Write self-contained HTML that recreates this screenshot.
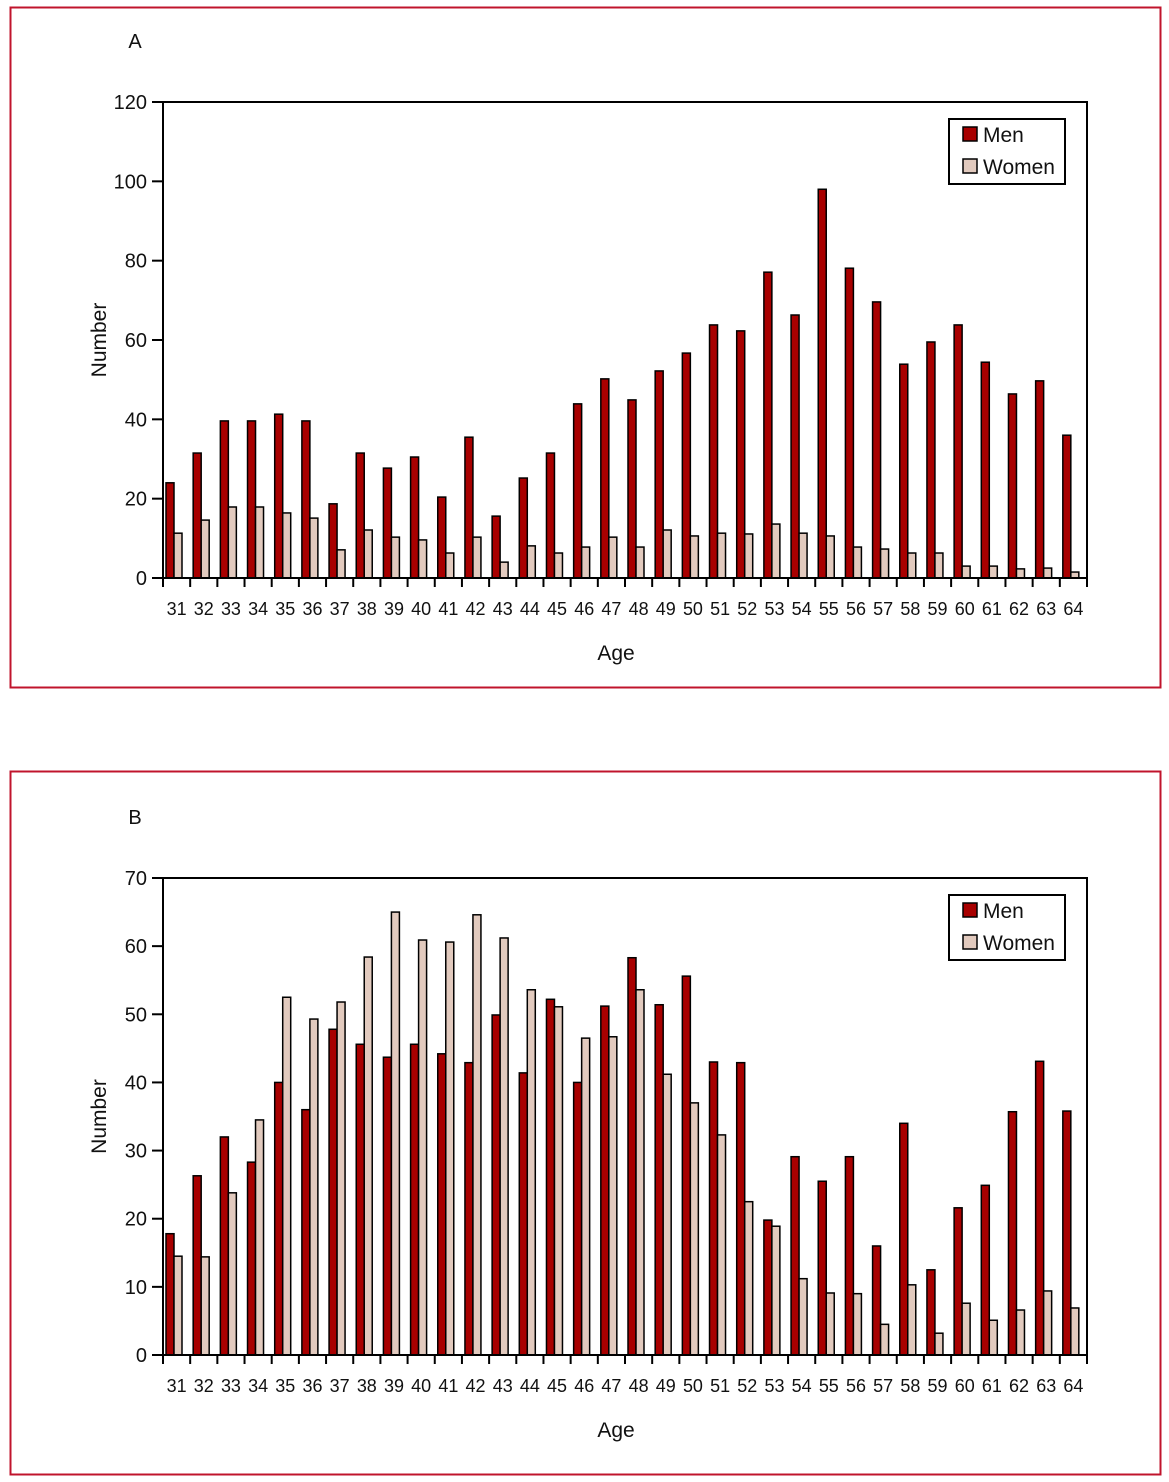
<!DOCTYPE html>
<html><head><meta charset="utf-8"><style>
html,body{margin:0;padding:0;background:#fff;}
svg{display:block;}
text{font-family:"Liberation Sans",sans-serif;fill:#111;}
</style></head><body>
<svg id="fig" width="1169" height="1482" xmlns="http://www.w3.org/2000/svg">
<rect x="10.5" y="7.5" width="1150" height="680" fill="none" stroke="#c0142c" stroke-width="2"/>
<rect x="10.5" y="771.5" width="1150" height="703" fill="none" stroke="#c0142c" stroke-width="2"/>
</svg>
<script>
const ages=[31,32,33,34,35,36,37,38,39,40,41,42,43,44,45,46,47,48,49,50,51,52,53,54,55,56,57,58,59,60,61,62,63,64];
const menA=[24,31.5,39.6,39.6,41.3,39.6,18.7,31.5,27.7,30.5,20.4,35.5,15.6,25.2,31.5,43.9,50.2,44.9,52.2,56.7,63.8,62.3,77.1,66.3,98,78.1,69.6,53.9,59.5,63.8,54.4,46.4,49.7,36];
const womenA=[11.3,14.6,17.9,17.9,16.4,15.1,7.1,12.1,10.3,9.6,6.3,10.3,4,8.1,6.3,7.8,10.3,7.8,12.1,10.6,11.3,11.1,13.6,11.3,10.6,7.8,7.3,6.3,6.3,3,3,2.3,2.5,1.5];
const menB=[17.8,26.3,32,28.3,40,36,47.8,45.6,43.7,45.6,44.2,42.9,49.9,41.4,52.2,40,51.2,58.3,51.4,55.6,43,42.9,19.8,29.1,25.5,29.1,16,34,12.5,21.6,24.9,35.7,43.1,35.8];
const womenB=[14.5,14.4,23.8,34.5,52.5,49.3,51.8,58.4,65,60.9,60.6,64.6,61.2,53.6,51.1,46.5,46.7,53.6,41.2,37,32.3,22.5,18.9,11.2,9.1,9,4.5,10.3,3.2,7.6,5.1,6.6,9.4,6.9];
const ticksA=[0,20,40,60,80,100,120];
const ticksB=[0,10,20,30,40,50,60,70];
const NS="http://www.w3.org/2000/svg";
const svg=document.getElementById('fig');
function mk(tag,attrs,parent){const e=document.createElementNS(NS,tag);for(const k in attrs)e.setAttribute(k,attrs[k]);(parent||svg).appendChild(e);return e;}
function chart(id,label,top,bottom,ymax,ticks,men,women){
  const g=mk('g',{});
  
  
  const x0=163,x1=1087,cw=(x1-x0)/ages.length;
  const y=v=>bottom-(v/ymax)*(bottom-top);
  const t=mk('text',{x:135,y:top-54,'font-size':20,'text-anchor':'middle'},g);t.textContent=label;
  
  mk('rect',{x:x0,y:top,width:x1-x0,height:bottom-top,fill:'none',stroke:'#000','stroke-width':2},g);
  ticks.forEach(v=>{
    const ln=mk('line',{x1:x0-11,x2:x0,y1:y(v),y2:y(v),stroke:'#000','stroke-width':2},g);
    
    const tx=mk('text',{x:x0-16,y:y(v)+7,'font-size':20,'text-anchor':'end'},g);tx.textContent=v;
    
  });
  for(let i=0;i<=ages.length;i++){
    const xx=x0+i*cw;
    const ln=mk('line',{x1:xx,x2:xx,y1:bottom,y2:bottom+9,stroke:'#000','stroke-width':2},g);
    
  }
  ages.forEach((a,i)=>{
    const s=x0+i*cw;
    const m=mk('rect',{x:s+3,y:y(men[i]),width:8,height:bottom-y(men[i]),fill:'#a80000',stroke:'#000','stroke-width':1.5},g);
    
    const w=mk('rect',{x:s+11,y:y(women[i]),width:8,height:bottom-y(women[i]),fill:'#e2cabe',stroke:'#000','stroke-width':1.5},g);
    
    const tx=mk('text',{x:s+cw/2,y:bottom+37,'font-size':18,'text-anchor':'middle',textLength:20,lengthAdjust:'spacingAndGlyphs'},g);tx.textContent=a;
    
  });
  mk('line',{x1:x0,x2:x1,y1:bottom,y2:bottom,stroke:'#000','stroke-width':2},g);
  const xt=mk('text',{x:616,y:bottom+82,'font-size':21,'text-anchor':'middle'},g);xt.textContent='Age';
  
  const cy=(top+bottom)/2-unitsOff(top,bottom);
  const yt=mk('text',{x:0,y:0,'font-size':21,'text-anchor':'middle',transform:`translate(106,${cy}) rotate(-90)`},g);yt.textContent='Number';
  
  const lg=mk('g',{},g);
  
  mk('rect',{x:949,y:top+17,width:116,height:65,fill:'#fff',stroke:'#000','stroke-width':2},lg);
  mk('rect',{x:963,y:top+25,width:14,height:14,fill:'#a80000',stroke:'#000','stroke-width':1.5},lg);
  mk('rect',{x:963,y:top+57,width:14,height:14,fill:'#e2cabe',stroke:'#000','stroke-width':1.5},lg);
  const l1=mk('text',{x:983,y:top+40,'font-size':21},lg);l1.textContent='Men';
  
  const l2=mk('text',{x:983,y:top+72,'font-size':21},lg);l2.textContent='Women';
  
}
function unitsOff(t,b){return (b-t)*0.0;}
chart('a','A',102,578,120,ticksA,menA,womenA);
chart('b','B',878,1355,70,ticksB,menB,womenB);
</script>
</body></html>
